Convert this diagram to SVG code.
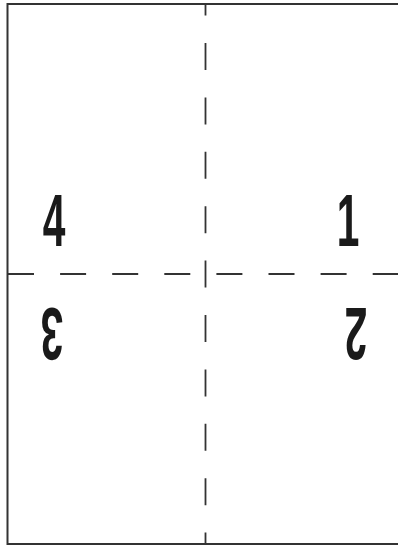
<svg xmlns="http://www.w3.org/2000/svg" width="398" height="549" viewBox="0 0 398 549">
<style>
.border{fill:none;stroke:#333;stroke-width:2}
.fold{fill:none;stroke:#333;stroke-width:1.8}
.num{font-family:"Liberation Sans",Arial,sans-serif;font-weight:bold;font-size:74px;fill:#1a1a1a;text-anchor:middle}
</style>
<rect width="398" height="549" fill="#fff"/>
<g id="sheet">
<path class="border" d="M402,4 H7.5 V544 H402"/>
</g>
<g id="folds">
<line class="fold" x1="205.5" y1="4" x2="205.5" y2="544" stroke-dasharray="27 27.4" stroke-dashoffset="15.4"/>
<line class="fold" x1="8" y1="274" x2="400" y2="274" stroke-dasharray="26 26.1"/>
</g>
<g id="page4"><text class="num" transform="translate(54,246) scale(0.55,1)">4</text></g>
<g id="page1"><text class="num" transform="translate(348,246) scale(0.55,1)">1</text></g>
<g id="page3"><text class="num" transform="translate(52,308) rotate(180) scale(0.55,1)">3</text></g>
<g id="page2"><text class="num" transform="translate(356,308) rotate(180) scale(0.55,1)">2</text></g>
</svg>
